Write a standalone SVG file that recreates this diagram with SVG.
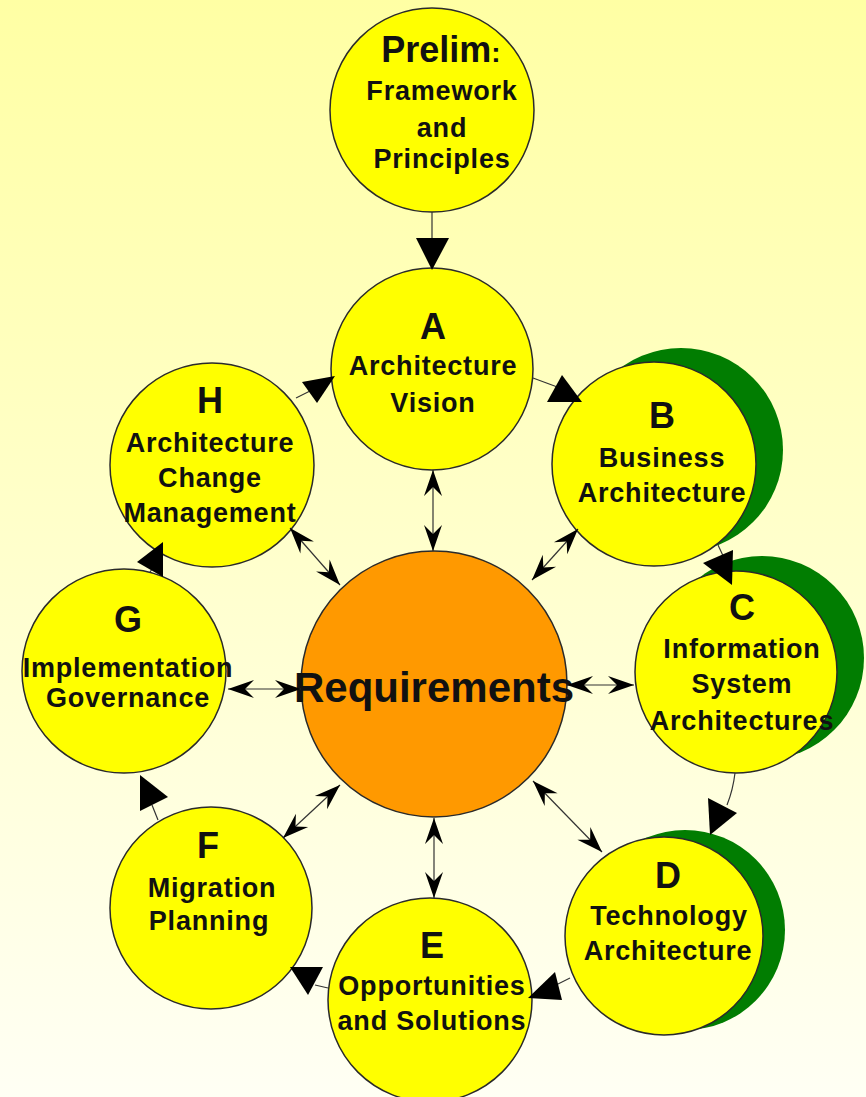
<svg xmlns="http://www.w3.org/2000/svg" width="866" height="1097" viewBox="0 0 866 1097">
<defs>
<linearGradient id="bg" x1="0" y1="0" x2="0" y2="1">
<stop offset="0" stop-color="#ffffa4"/>
<stop offset="1" stop-color="#fffff4"/>
</linearGradient>
<marker id="barb" viewBox="-28 -11 30 22" refX="0" refY="0" markerWidth="30" markerHeight="22" markerUnits="userSpaceOnUse" orient="auto-start-reverse">
<path d="M0,0 L-26,-9 L-17,0 L-26,9 Z" fill="#000"/>
</marker>
<style>
.ph{fill:#ffff00;stroke:#2a2a2a;stroke-width:1.5}
.gr{fill:#017d01}
.rq{fill:#ff9900;stroke:#2a2a2a;stroke-width:1.5}
text{font-family:"Liberation Sans",Arial,sans-serif;font-weight:bold;fill:#111;text-anchor:middle}
.big{font-size:36px}
.lb{font-size:27px;letter-spacing:0.8px}
.ln{stroke:#333;stroke-width:1.2;fill:none}
.bi{stroke:#333;stroke-width:1.2;fill:none;marker-start:url(#barb);marker-end:url(#barb)}
.ah{fill:#000}
</style>
</defs>
<rect width="866" height="1097" fill="url(#bg)"/>

<g id="shadows">
<circle class="gr" cx="681" cy="450" r="102"/>
<circle class="gr" cx="762" cy="658" r="102"/>
<circle class="gr" cx="685" cy="930" r="100"/>
</g>

<g id="prelim">
<circle class="ph" cx="432" cy="110" r="102"/>
<text x="441" y="62"><tspan class="big">Prelim</tspan><tspan font-size="28">:</tspan></text>
<text class="lb" x="442" y="100">Framework</text>
<text class="lb" x="442" y="137">and</text>
<text class="lb" x="442" y="168">Principles</text>
</g>

<g id="A">
<circle class="ph" cx="432" cy="369" r="101"/>
<text class="big" x="433" y="339">A</text>
<text class="lb" x="433" y="375">Architecture</text>
<text class="lb" x="433" y="412">Vision</text>
</g>

<g id="B">
<circle class="ph" cx="654" cy="464" r="102"/>
<text class="big" x="662" y="428">B</text>
<text class="lb" x="662" y="467">Business</text>
<text class="lb" x="662" y="502">Architecture</text>
</g>

<g id="C">
<circle class="ph" cx="736" cy="672" r="101"/>
<text class="big" x="742" y="620">C</text>
<text class="lb" x="742" y="658">Information</text>
<text class="lb" x="742" y="693">System</text>
<text class="lb" x="742" y="730">Architectures</text>
</g>

<g id="D">
<circle class="ph" cx="664" cy="936" r="99"/>
<text class="big" x="668" y="888">D</text>
<text class="lb" x="669" y="925">Technology</text>
<text class="lb" x="668" y="960">Architecture</text>
</g>

<g id="E">
<circle class="ph" cx="430" cy="1000" r="102"/>
<text class="big" x="432" y="958">E</text>
<text class="lb" x="432" y="995">Opportunities</text>
<text class="lb" x="432" y="1030">and Solutions</text>
</g>

<g id="F">
<circle class="ph" cx="211" cy="908" r="101"/>
<text class="big" x="208" y="858">F</text>
<text class="lb" x="212" y="897">Migration</text>
<text class="lb" x="209" y="930">Planning</text>
</g>

<g id="G">
<circle class="ph" cx="124" cy="671" r="102"/>
<text class="big" x="128" y="632">G</text>
<text class="lb" x="128" y="677">Implementation</text>
<text class="lb" x="128" y="707">Governance</text>
</g>

<g id="H">
<circle class="ph" cx="212" cy="465" r="102"/>
<text class="big" x="210" y="413">H</text>
<text class="lb" x="210" y="452">Architecture</text>
<text class="lb" x="210" y="487">Change</text>
<text class="lb" x="210" y="522">Management</text>
</g>

<g id="requirements">
<circle class="rq" cx="434" cy="684" r="133"/>
<text x="434" y="702" font-size="42">Requirements</text>
</g>

<g id="connectors">
<line class="ln" x1="432" y1="212" x2="432" y2="240"/>
<polygon class="ah" points="416,238 449,238 432,270"/>
<line class="ln" x1="533" y1="378" x2="560" y2="388"/>
<polygon class="ah" points="562,375 547,402 582,402"/>
<line class="ln" x1="718" y1="545" x2="725" y2="560"/>
<polygon class="ah" points="703,563 733,550 732,585"/>
<path class="ln" d="M735,773 Q733,790 727,805"/>
<polygon class="ah" points="708,798 737,813 710,835"/>
<line class="ln" x1="570" y1="978" x2="550" y2="988"/>
<polygon class="ah" points="528,998 555,972 562,1000"/>
<line class="ln" x1="328" y1="988" x2="315" y2="985"/>
<polygon class="ah" points="290,967 323,967 308,995"/>
<line class="ln" x1="158" y1="820" x2="152" y2="805"/>
<polygon class="ah" points="140,775 168,797 140,811"/>
<line class="ln" x1="150" y1="572" x2="155" y2="565"/>
<polygon class="ah" points="137,562 163,542 163,577"/>
<line class="ln" x1="296" y1="398" x2="312" y2="390"/>
<polygon class="ah" points="302,382 335,376 317,403"/>

<line class="bi" x1="433" y1="470" x2="433" y2="551"/>
<line class="bi" x1="578" y1="529" x2="532" y2="580"/>
<line class="bi" x1="634" y1="685" x2="567" y2="685"/>
<line class="bi" x1="602" y1="852" x2="533" y2="781"/>
<line class="bi" x1="434" y1="898" x2="434" y2="818"/>
<line class="bi" x1="283" y1="838" x2="340" y2="785"/>
<line class="bi" x1="228" y1="689" x2="301" y2="689"/>
<line class="bi" x1="290" y1="528" x2="340" y2="585"/>
</g>
</svg>
